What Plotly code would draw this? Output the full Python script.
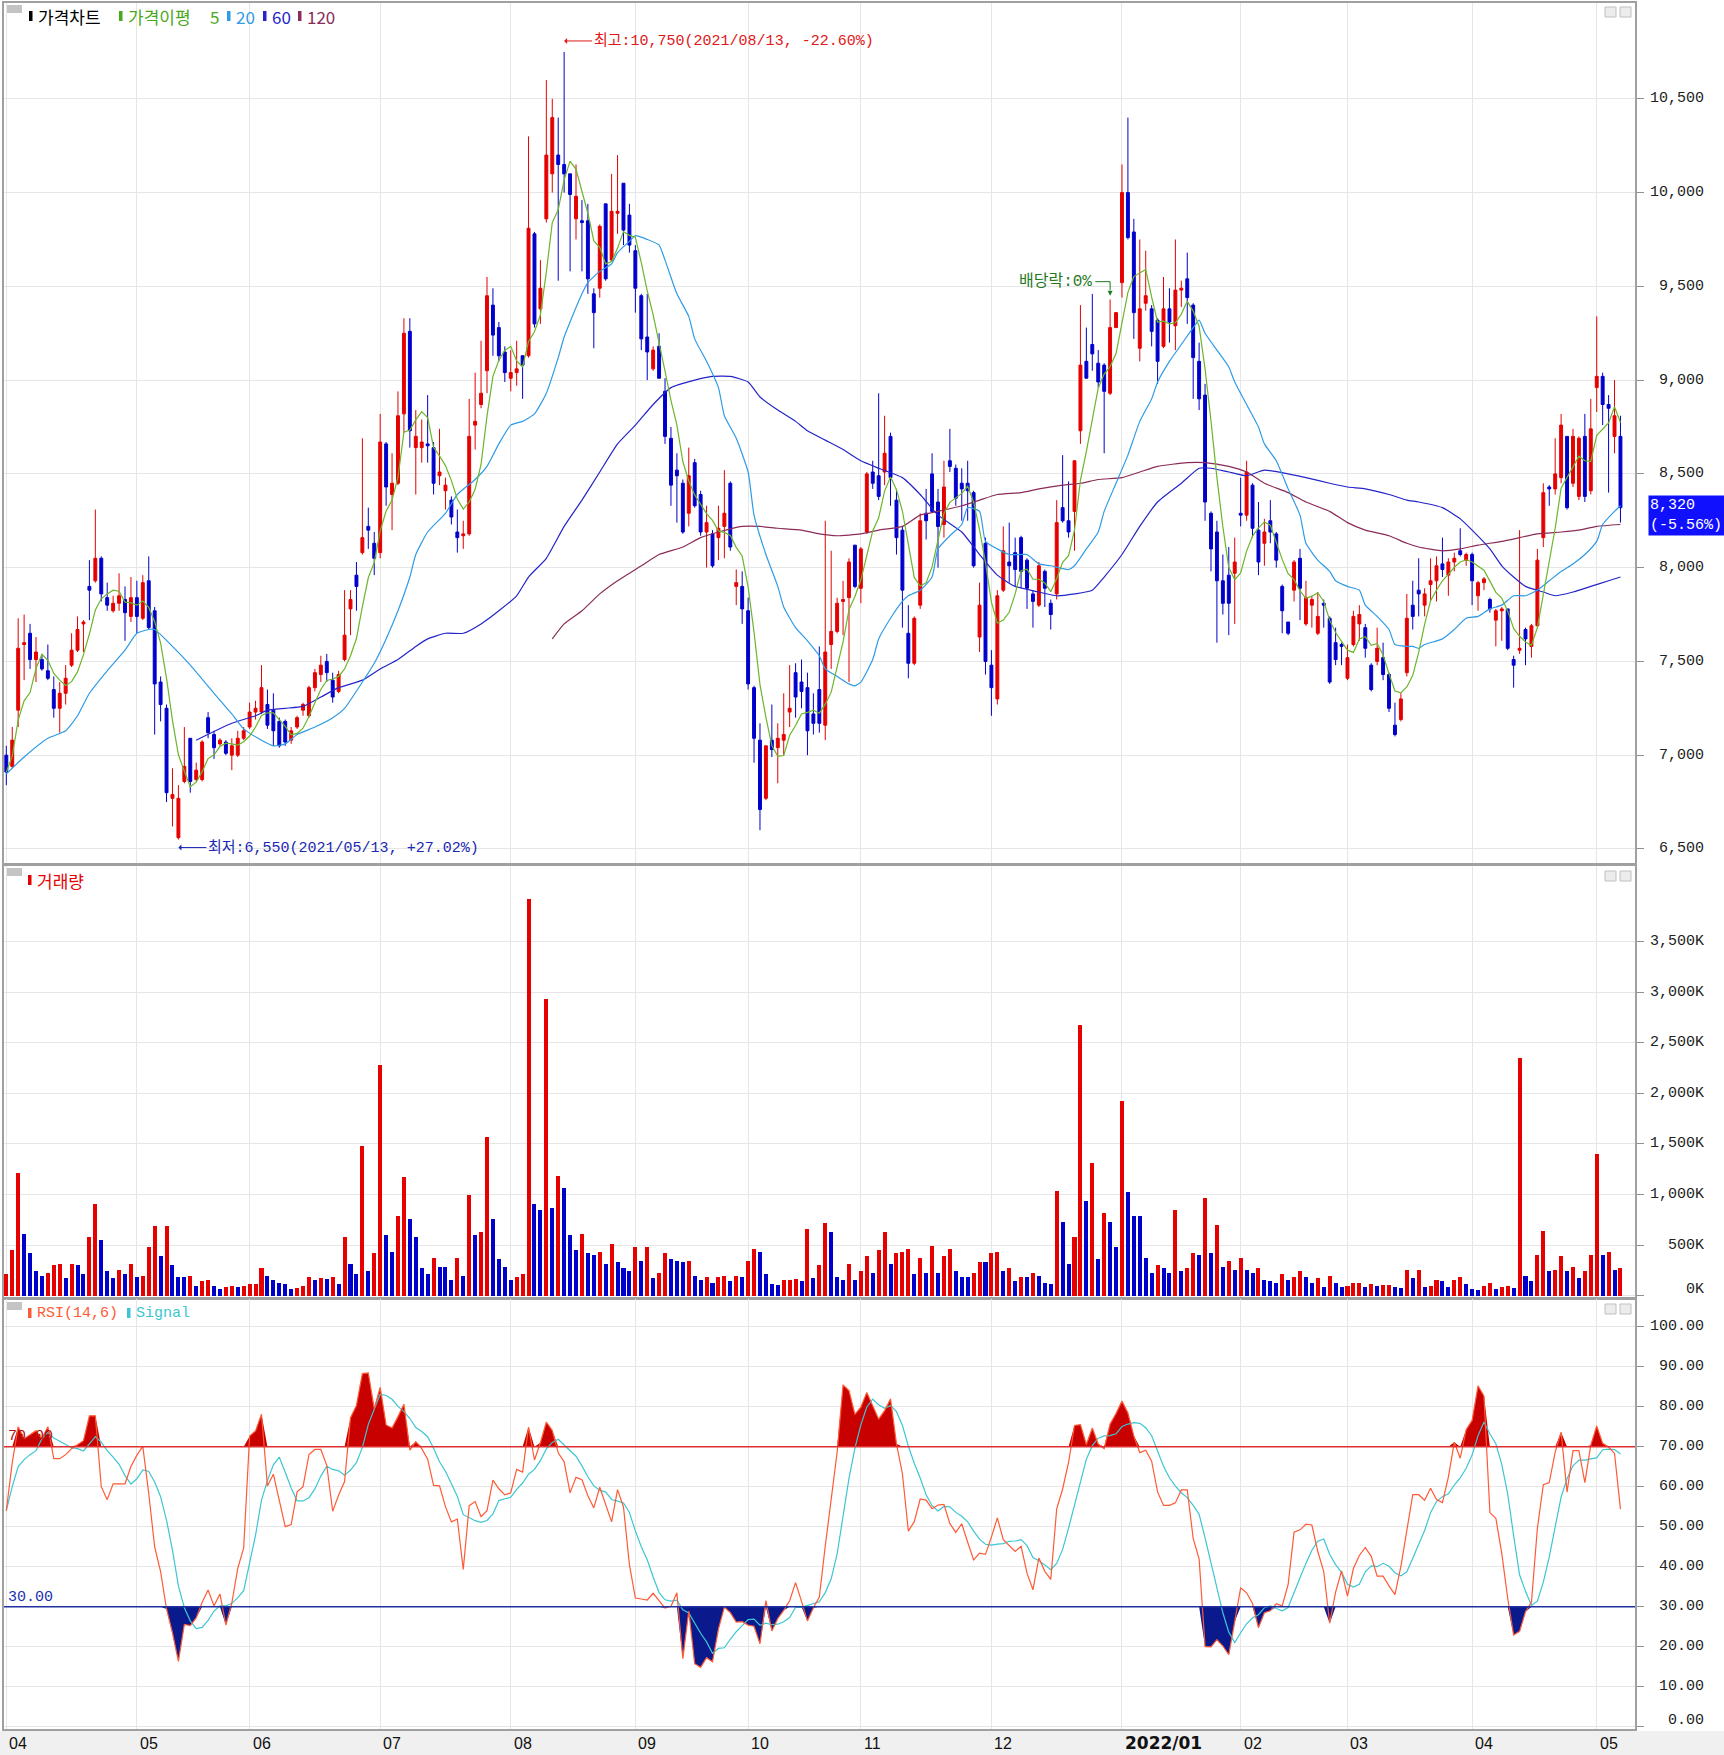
import numpy as np
import pandas as pd
import plotly.graph_objects as go

W, H = 1724, 1755

# ---------------- data ----------------
open_ = [7000,6940,7240,7590,7650,7510,7510,7450,7350,7250,7330,7480,7560,7700,7900,7930,8050,7840,7770,7810,
         7830,7740,7840,7730,7930,7770,7390,7250,6770,6560,6860,7090,6870,6870,7200,7110,7060,7070,7000,7000,
         7090,7150,7230,7230,7270,7240,7180,7180,7080,7150,7240,7210,7360,7430,7500,7400,7340,7510,7780,7960,
         8080,8220,8130,8080,8660,8390,8450,8820,9260,8640,8640,8660,8640,8490,8410,8360,8190,8170,8180,8760,
         8870,9050,9400,9280,9150,9010,9040,9130,9130,9780,9380,9860,10100,10200,10150,10100,9860,9850,9850,9460,
         9490,9940,9640,9890,10050,9880,9690,9450,9230,9060,9180,8940,8690,8520,8450,8290,8560,8390,8190,8180,
         8160,8220,8450,7900,7900,7770,7360,7080,6770,7080,7040,7080,7230,7440,7390,7360,7220,7350,7160,7590,
         7660,7820,7840,8120,7890,8190,8510,8490,8510,8700,8360,8200,7650,7490,7800,8290,8500,8350,8230,8570,
         8530,8450,8450,8400,7630,8130,7480,7300,7880,8030,8080,8160,8040,7860,7800,7980,7810,7860,8320,8250,
         8300,8730,9100,9190,9090,9080,8930,9280,9520,10000,9790,9170,9410,9380,9320,9180,9380,9290,9480,9540,
         9400,9100,8920,8290,8190,7930,7960,7970,8290,8280,8440,8200,8130,8250,8180,7900,7710,7880,8050,7700,
         7800,7650,7810,7730,7600,7590,7410,7590,7700,7680,7480,7500,7520,7430,7160,7190,7440,7800,7880,7800,
         7910,7930,8020,7960,8030,8090,8040,8070,7850,7920,7830,7720,7770,7780,7510,7560,7670,7580,7690,8160,
         8430,8420,8480,8700,8450,8380,8700,8410,8960,9020,8870,8700,8700]
high = [7050,7150,7730,7750,7700,7630,7540,7590,7420,7390,7480,7650,7740,7720,8040,8310,8060,7920,7850,7970,
        7900,7950,7930,7960,8060,7790,7420,7270,6930,6840,7150,7090,6960,7080,7230,7130,7090,7080,7090,7130,
        7150,7280,7290,7480,7350,7330,7200,7190,7150,7210,7280,7370,7460,7530,7540,7440,7450,7880,7880,8030,
        8690,8320,8190,8820,8670,8610,8940,9330,9330,8840,8790,8920,8670,8740,8480,8380,8310,8250,8900,9040,
        9210,9550,9490,9310,9180,9160,9210,9130,10300,9790,9640,10600,10500,10400,10750,10100,10150,9960,9940,9490,
        9830,9940,10100,10200,10050,9940,9720,9460,9460,9180,9250,9010,8750,8610,8470,8640,8580,8410,8330,8200,
        8330,8520,8460,7990,7980,7840,7370,7170,7050,7270,7170,7330,7480,7490,7510,7440,7330,7580,8250,8090,
        7840,7930,8050,8120,8110,8510,8570,8930,8810,8720,8420,8220,7800,7740,8290,8420,8610,8420,8570,8740,
        8550,8530,8570,8410,7920,8160,7560,7880,8220,8240,8160,8170,8050,7880,8030,7990,7830,8360,8600,8460,
        8570,9400,9280,9460,9160,9090,9430,9360,10150,10400,9860,9750,9690,9400,9330,9550,9490,9750,9530,9680,
        9410,9200,8980,8300,8250,8070,8110,8160,8480,8570,8450,8350,8260,8360,8190,7910,7710,8040,8100,7930,
        7850,7870,7830,7740,7680,7600,7590,7770,7800,7700,7490,7680,7600,7440,7280,7330,7860,7930,8050,7890,
        8050,8060,8160,8050,8080,8210,8080,8080,7930,7950,7840,7780,7790,7780,7530,8200,7680,7700,8100,8450,
        8440,8690,8820,8700,8740,8700,8820,8900,9340,9040,8920,9000,8810]
low = [6840,6930,7150,7400,7460,7390,7450,7400,7200,7120,7270,7470,7550,7550,7720,7920,7820,7770,7760,7770,
       7610,7710,7650,7720,7670,7110,7180,6750,6620,6550,6850,6800,6860,6860,7090,6980,7050,7000,6920,6990,
       7080,7140,7190,7220,7140,7050,7040,7050,7060,7140,7210,7200,7340,7390,7390,7280,7330,7500,7640,7770,
       8070,8100,7960,8050,8330,8200,8440,8720,8640,8390,8560,8560,8390,8440,8310,8230,8080,8100,8170,8630,
       8850,8930,9130,9100,8990,8940,8970,8900,9120,9280,9300,9840,10000,9530,10000,9580,9750,9580,9460,9170,
       9440,9530,9630,9780,9720,9680,9360,9160,9000,9050,9010,8660,8330,8240,8180,8220,8320,8170,8000,8000,
       8040,8050,8090,7800,7700,7350,6960,6600,6760,6990,6850,7000,7150,7200,7250,7000,7110,7120,7080,7460,
       7650,7640,7390,7890,7810,8180,8420,8360,8440,8330,8070,7680,7410,7480,7780,8150,8300,8000,8160,8510,
       8330,8250,8250,8000,7550,7430,7210,7270,7870,7920,7900,7890,7780,7680,7790,7790,7670,7830,8240,8160,
       8090,8660,9010,9050,8960,8610,8920,9280,9440,9750,9220,9100,9370,9180,8980,9170,9200,9160,9390,9300,
       8900,8840,8250,7980,7600,7750,7640,7700,8220,8250,8160,7960,8010,8130,8000,7650,7640,7820,7720,7690,
       7680,7640,7680,7380,7480,7480,7400,7580,7610,7520,7340,7480,7400,7230,7100,7180,7420,7670,7740,7740,
       7820,7820,7950,7850,7980,8060,8010,7800,7770,7880,7760,7580,7610,7560,7360,7540,7480,7520,7680,8110,
       8330,8390,8450,8310,8430,8360,8350,8390,8830,8760,8400,8610,8240]
close = [6910,7080,7570,7600,7510,7550,7460,7410,7250,7330,7410,7560,7670,7710,7880,8050,7860,7800,7810,7850,
         7760,7840,7740,7920,7680,7380,7270,6800,6790,6770,6940,6860,6920,7070,7120,7040,7080,7010,7050,7090,
         7130,7230,7250,7360,7160,7130,7050,7070,7130,7200,7270,7360,7440,7480,7440,7310,7430,7640,7830,7900,
         8160,8200,8050,8670,8430,8450,8810,9250,8730,8700,8670,8650,8450,8510,8440,8270,8160,8180,8700,8780,
         8930,9450,9240,9130,9040,9040,9060,9080,9810,9300,9490,10200,10400,10150,10100,9990,9980,9840,9540,9360,
         9820,9540,9900,9900,9800,9720,9490,9220,9150,9160,9010,8700,8440,8490,8190,8490,8330,8190,8240,8010,
         8210,8290,8110,7920,7780,7380,7090,6710,7050,7030,7090,7110,7250,7310,7340,7130,7170,7170,7550,7660,
         7810,7830,8030,7900,8100,8500,8450,8380,8610,8480,8160,7880,7490,7730,8250,8250,8300,8220,8430,8540,
         8370,8420,8410,8010,7800,7500,7360,7850,8090,8010,7990,7980,7890,7820,8010,7890,7750,8240,8250,8190,
         8570,9080,9010,9140,8990,8940,9280,9360,10000,9760,9360,9380,9450,9260,9100,9380,9310,9480,9490,9440,
         9120,8900,8350,8100,7930,7810,7810,8030,8280,8510,8210,8030,8190,8190,8040,7770,7650,8030,7890,7840,
         7830,7740,7800,7390,7510,7580,7520,7740,7750,7570,7350,7570,7430,7250,7110,7300,7730,7740,7860,7860,
         7930,8010,7990,8030,8050,8070,8070,7930,7920,7940,7780,7770,7780,7570,7480,7570,7620,7690,8040,8400,
         8420,8500,8760,8320,8700,8690,8380,8740,9020,8870,8850,8810,8320]
volume_k = [219,448,1216,611,422,245,199,229,304,317,170,317,304,216,582,905,552,245,170,258,
            216,317,186,199,480,686,392,686,304,186,180,190,98,141,157,98,69,82,98,82,
            98,111,115,275,199,157,127,111,69,72,98,186,157,170,165,186,111,582,317,219,
            1480,245,422,2281,598,435,788,1173,758,582,275,216,376,288,285,157,376,199,993,598,
            627,1570,758,363,288,157,186,216,3926,905,846,2935,863,1186,1069,598,451,611,422,405,
            435,317,510,333,275,245,480,346,480,170,229,422,363,346,333,346,199,157,186,127,
            186,199,141,199,186,346,464,435,216,111,108,157,160,163,141,657,170,304,716,627,
            186,157,317,157,245,392,229,451,627,317,422,435,464,216,376,229,493,229,392,464,
            245,186,183,229,333,330,422,435,245,275,141,186,183,229,199,127,111,1039,729,317,
            582,2673,935,1317,363,817,729,480,1930,1023,788,785,376,229,304,275,229,846,245,275,
            422,405,964,422,699,288,346,258,376,258,229,275,157,141,127,216,157,186,245,186,
            127,170,82,199,127,82,98,127,130,82,111,98,101,104,82,80,258,170,258,82,
            98,157,141,82,157,186,111,69,52,98,127,69,82,98,72,2346,199,141,405,641,
            245,250,392,245,288,170,245,405,1400,405,435,258,275]

# moving averages (candle index, price)
ma20_idx = [0,3,7,10,12,14,17,20,22,24,25,28,31,35,38,40,43,45,47,49,52,55,57,60,62,64,66,68,69,71,74,76,79,81,83,85,87,89,91,93,94,95,97,98,100,102,103,105,106,108,110,111,113,115,116,118,120,121,123,125,126,128,130,131,133,135,137,138,140,142,143,144,146,147,149,151,152,154,156,157,159,161,162,164,165,167,169,171,172,174,176,179,180,182,184,185,187,189,191,193,194,196,198,200,201,202,204,206,207,209,211,212,214,216,218,219,221,223,224,226,228,229,231,233,234,236,237,238,239,242,244,246,248,250,252,254,256,258,260,262,264,266,268,269,271,272]
ma20_val = [6900,6990,7090,7130,7210,7330,7450,7560,7650,7670,7670,7580,7480,7330,7220,7140,7080,7050,7060,7110,7150,7200,7250,7390,7490,7620,7770,7950,8070,8190,8290,8390,8470,8540,8660,8760,8780,8820,8930,9120,9230,9310,9460,9520,9580,9620,9680,9740,9770,9750,9720,9640,9460,9340,9220,9100,8960,8810,8690,8510,8280,8070,7900,7790,7680,7610,7530,7460,7420,7380,7370,7390,7510,7620,7730,7820,7850,7880,7950,8100,8170,8230,8320,8300,8140,8100,8070,8070,8070,8020,8010,7990,8010,8100,8190,8300,8450,8600,8780,8900,8990,9100,9190,9280,9320,9250,9160,9070,8990,8870,8750,8660,8570,8420,8280,8130,8040,7980,7930,7900,7880,7800,7740,7670,7590,7580,7580,7570,7590,7620,7670,7730,7740,7780,7800,7850,7850,7880,7930,7980,8020,8070,8140,8230,8300,8330]
ma60_idx = [32,38,42,44,47,50,53,56,60,63,66,69,71,74,77,80,83,86,88,91,94,97,100,103,106,109,112,116,119,122,125,127,130,133,135,138,141,144,147,151,154,157,161,164,167,170,174,177,180,183,185,188,191,194,198,201,203,206,209,212,216,219,223,226,229,233,236,238,242,245,247,250,252,254,256,259,261,264,267,270,272]
ma60_val = [7080,7170,7210,7240,7250,7260,7310,7360,7400,7460,7510,7580,7620,7650,7650,7700,7770,7850,7950,8050,8220,8360,8510,8660,8760,8870,8960,9000,9020,9020,8990,8910,8840,8780,8730,8680,8630,8570,8530,8480,8390,8280,8190,8070,7960,7900,7870,7850,7860,7880,7950,8070,8220,8350,8450,8530,8530,8510,8490,8520,8500,8480,8450,8430,8420,8390,8360,8350,8320,8260,8200,8100,8010,7950,7900,7870,7850,7870,7900,7930,7950]
ma120_idx = [92,94,97,100,103,107,110,114,117,120,124,127,130,134,137,140,144,147,151,154,157,161,164,167,171,174,178,181,184,188,191,194,199,202,206,209,212,216,219,223,226,229,233,236,238,242,245,248,252,255,258,262,265,268,272]
ma120_val = [7620,7700,7770,7860,7930,8010,8070,8110,8160,8190,8220,8220,8210,8200,8180,8170,8180,8200,8220,8280,8300,8330,8360,8390,8400,8420,8440,8450,8470,8480,8510,8540,8560,8560,8540,8510,8450,8400,8350,8300,8240,8200,8170,8130,8110,8090,8100,8120,8140,8160,8180,8190,8200,8220,8230]

# RSI values for the first days (not enough history in the visible data)
rsi_head = [54, 66, 75, 72, 73, 74, 72, 75, 67, 67, 68, 69.5, 70.5, 71.5]

month_idx = [0, 22, 41, 63, 85, 106, 125, 144, 166, 188, 208, 226, 247, 268]
month_lbl = ["04", "05", "06", "07", "08", "09", "10", "11", "12", "2022/01", "02", "03", "04", "05"]
price_ticks = [6500, 7000, 7500, 8000, 8500, 9000, 9500, 10000, 10500]
vol_ticks_k = [0, 500, 1000, 1500, 2000, 2500, 3000, 3500]
rsi_ticks = [0, 10, 20, 30, 40, 50, 60, 70, 80, 90, 100]
hi_date, lo_date = "2021/08/13", "2021/05/13"
div_idx = 186

# ---------------- styling ----------------
RED = "#e60000"
BLUE = "#0000cc"
GRID = "#e6e6e6"
FRAME = "#a0a0a0"
C_MA5, C_MA20, C_MA60, C_MA120 = "#6db52a", "#2f9be6", "#2424c8", "#8a2c58"
C_RSI, C_SIG = "#ff5a36", "#3cc6d2"
MONO = "Liberation Mono, Noto Sans CJK KR, monospace"
KR = "Noto Sans CJK KR, sans-serif"

N = len(close)
x = list(range(N))
cs = pd.Series(close, dtype=float)
ma5 = cs.rolling(5, min_periods=1).mean()

d = cs.diff()
up = d.clip(lower=0).rolling(14).sum()
dn = (-d.clip(upper=0)).rolling(14).sum()
rsi = 100 * up / (up + dn)
rsi.iloc[:len(rsi_head)] = rsi_head
signal = rsi.rolling(6, min_periods=1).mean()

vol = np.array(volume_k) * 1000
vcol = [RED] + [RED if vol[i] > vol[i - 1] else BLUE for i in range(1, N)]


def px(v):
    return v / W


def py(v):
    return 1 - v / H


def ydom(top, bot):
    return [1 - bot / H, 1 - top / H]


XD = [4 / W, 1635 / W]
XR = [-0.39, 274.45]

fig = go.Figure()

fig.add_trace(go.Candlestick(
    x=x, open=open_, high=high, low=low, close=close,
    increasing=dict(line=dict(color=RED, width=1), fillcolor=RED),
    decreasing=dict(line=dict(color=BLUE, width=1), fillcolor=BLUE),
    whiskerwidth=0, xaxis="x", yaxis="y", hoverinfo="skip"))
for xi, yi, c in [(ma120_idx, ma120_val, C_MA120), (ma60_idx, ma60_val, C_MA60),
                  (ma20_idx, ma20_val, C_MA20)]:
    fig.add_trace(go.Scatter(x=xi, y=yi, mode="lines", line=dict(color=c, width=1.2, shape="spline", smoothing=0.5),
                             xaxis="x", yaxis="y", hoverinfo="skip"))
fig.add_trace(go.Scatter(x=x, y=ma5, mode="lines", line=dict(color=C_MA5, width=1.2),
                         xaxis="x", yaxis="y", hoverinfo="skip"))

fig.add_trace(go.Bar(x=x, y=vol, marker=dict(color=vcol, line=dict(width=0)), width=0.68,
                     xaxis="x2", yaxis="y2", hoverinfo="skip"))

rsi_v = rsi.values
fig.add_trace(go.Scatter(x=x, y=[70] * N, mode="lines", line=dict(width=0), xaxis="x3", yaxis="y3", hoverinfo="skip"))
fig.add_trace(go.Scatter(x=x, y=np.maximum(rsi_v, 70), mode="lines", line=dict(width=0), fill="tonexty",
                         fillcolor="#c80000", xaxis="x3", yaxis="y3", hoverinfo="skip"))
fig.add_trace(go.Scatter(x=x, y=[30] * N, mode="lines", line=dict(width=0), xaxis="x3", yaxis="y3", hoverinfo="skip"))
fig.add_trace(go.Scatter(x=x, y=np.minimum(rsi_v, 30), mode="lines", line=dict(width=0), fill="tonexty",
                         fillcolor="#0a1a8c", xaxis="x3", yaxis="y3", hoverinfo="skip"))
fig.add_trace(go.Scatter(x=x, y=signal, mode="lines", line=dict(color=C_SIG, width=1.2),
                         xaxis="x3", yaxis="y3", hoverinfo="skip"))
fig.add_trace(go.Scatter(x=x, y=rsi, mode="lines", line=dict(color=C_RSI, width=1.2),
                         xaxis="x3", yaxis="y3", hoverinfo="skip"))

common_x = dict(domain=XD, range=XR, tickvals=month_idx, showticklabels=False, ticks="",
                showgrid=True, gridcolor=GRID, gridwidth=1, showline=True, mirror=True,
                linecolor=FRAME, linewidth=2, zeroline=False, fixedrange=True)
common_y = dict(side="right", showticklabels=False, ticks="outside", ticklen=7, tickcolor="#909090",
                showgrid=True, gridcolor=GRID, gridwidth=1, showline=True, mirror=True,
                linecolor=FRAME, linewidth=2, zeroline=False, fixedrange=True)

fig.update_layout(
    width=W, height=H, margin=dict(l=0, r=0, t=0, b=0),
    paper_bgcolor="white", plot_bgcolor="white", showlegend=False, bargap=0,
    xaxis=dict(common_x, anchor="y", rangeslider=dict(visible=False)),
    xaxis2=dict(common_x, anchor="y2", matches="x"),
    xaxis3=dict(common_x, anchor="y3", matches="x"),
    yaxis=dict(common_y, domain=ydom(3, 863), range=[6425, 11011], tickvals=price_ticks),
    yaxis2=dict(common_y, domain=ydom(866, 1297.5), range=[-18000, 4249000],
                tickvals=[v * 1000 for v in vol_ticks_k]),
    yaxis3=dict(common_y, domain=ydom(1298.5, 1729), range=[-0.6, 107.05], tickvals=rsi_ticks),
)

shapes = []
ann = []

# bottom strip
shapes.append(dict(type="rect", xref="paper", yref="paper", x0=0, x1=1, y0=0, y1=py(1731),
                   fillcolor="#f0f0f0", line=dict(width=0), layer="below"))
# 70 / 30 lines
shapes.append(dict(type="line", xref="x3 domain", yref="y3", x0=0, x1=1, y0=70, y1=70,
                   line=dict(color="#e03030", width=1.5)))
shapes.append(dict(type="line", xref="x3 domain", yref="y3", x0=0, x1=1, y0=30, y1=30,
                   line=dict(color="#2030a0", width=1.5)))

# panel icons
for top in (5, 868, 1302):
    shapes.append(dict(type="rect", xref="paper", yref="paper", x0=px(7), x1=px(22), y0=py(top + 8), y1=py(top),
                       fillcolor="#c4c4c4", line=dict(width=0)))
for top in (7, 871, 1304):
    for x0 in (1605, 1620):
        shapes.append(dict(type="rect", xref="paper", yref="paper", x0=px(x0), x1=px(x0 + 11),
                           y0=py(top + 10), y1=py(top), fillcolor="#ececec", line=dict(color="#c0c0c0", width=1)))


def marker(xp, yc, color):
    shapes.append(dict(type="rect", xref="paper", yref="paper", x0=px(xp), x1=px(xp + 3.5),
                       y0=py(yc + 5), y1=py(yc - 5), fillcolor=color, line=dict(width=0)))


def text(xp, yc, s, color, size=16, family=KR, anchor="left", bold=False):
    if bold:
        s = "<b>" + s + "</b>"
    ann.append(dict(xref="paper", yref="paper", x=px(xp), y=py(yc), text=s, showarrow=False,
                    xanchor=anchor, yanchor="middle", font=dict(family=family, size=size, color=color)))


# price legend
marker(29, 16, "#000000"); text(36, 16, "가격차트", "#000000", 17)
marker(119, 16, "#4aa820"); text(126, 16, "가격이평", "#4aa820", 17); text(208, 16, "5", "#4aa820", 17)
marker(227, 16, C_MA20); text(234, 16, "20", C_MA20, 17)
marker(263, 16, C_MA60); text(270, 16, "60", C_MA60, 17)
marker(298, 16, C_MA120); text(305, 16, "120", C_MA120, 17)
# volume legend
marker(28, 880, RED); text(35, 880, "거래량", RED, 17)
# RSI legend
marker(28, 1313, C_RSI); text(35, 1313, "RSI(14,6)", C_RSI, 15, MONO)
marker(127, 1313, C_SIG); text(134, 1313, "Signal", C_SIG, 15, MONO)

# right axis labels
for v in price_ticks:
    ann.append(dict(xref="paper", yref="y", x=px(1706), y=v, text=f"{v:,}", showarrow=False,
                    xanchor="right", yanchor="middle", font=dict(family=MONO, size=15, color="#222")))
for v in vol_ticks_k:
    ann.append(dict(xref="paper", yref="y2", x=px(1706), y=v * 1000, text=f"{v:,}K", showarrow=False,
                    xanchor="right", yanchor="middle", yshift=6 if v == 0 else 0,
                    font=dict(family=MONO, size=15, color="#222")))
for v in rsi_ticks:
    ann.append(dict(xref="paper", yref="y3", x=px(1706), y=v, text=f"{v:.2f}", showarrow=False,
                    xanchor="right", yanchor="middle", yshift=6 if v == 0 else 0,
                    font=dict(family=MONO, size=15, color="#222")))

# month labels
for i, lbl in zip(month_idx, month_lbl):
    bold = lbl.startswith("20")
    ann.append(dict(xref="x3", yref="paper", x=i, y=py(1743), text=("<b>%s</b>" % lbl) if bold else lbl,
                    showarrow=False, xanchor="left", yanchor="middle", xshift=1,
                    font=dict(family="DejaVu Sans" if bold else "Liberation Sans", size=17 if bold else 16,
                              color="#111")))

# RSI level labels
text(6, 1436, "70.00", "#b01010", 15, MONO)
text(6, 1597, "30.00", "#2030b0", 15, MONO)

# highest / lowest
last = close[-1]
ih = int(np.argmax(high)); hv = high[ih]
il = int(np.argmin(low)); lv = low[il]
ann.append(dict(xref="x", yref="y", x=ih, y=hv, yshift=11, ax=28, ay=0, showarrow=True, arrowhead=1,
                arrowsize=1, arrowwidth=1, arrowcolor="#e01818", xanchor="left",
                text=f"최고:{hv:,}({hi_date}, {(last / hv - 1) * 100:+.2f}%)",
                font=dict(family=MONO, size=15, color="#e01818")))
ann.append(dict(xref="x", yref="y", x=il, y=lv, yshift=-8, ax=28, ay=0, showarrow=True, arrowhead=1,
                arrowsize=1, arrowwidth=1, arrowcolor="#1a28b4", xanchor="left",
                text=f"최저:{lv:,}({lo_date}, {(last / lv - 1) * 100:+.2f}%)",
                font=dict(family=MONO, size=15, color="#1a28b4")))

# dividend marker
dh = high[div_idx]
ann.append(dict(xref="x", yref="y", x=div_idx - 2.7, y=dh + 95, text="배당락:0%", showarrow=False,
                xanchor="right", yanchor="middle", font=dict(family=MONO, size=16, color="#1e7a1e")))
shapes.append(dict(type="path", xref="x", yref="y",
                   path=f"M {div_idx - 2.5},{dh + 95} L {div_idx},{dh + 95} L {div_idx},{dh + 50}",
                   line=dict(color="#1e7a1e", width=1)))
ann.append(dict(xref="x", yref="y", x=div_idx, y=dh + 20, ax=0, ay=-6, showarrow=True, arrowhead=2,
                arrowsize=1, arrowwidth=1, arrowcolor="#1e7a1e", text=""))

# last price box
chg = (close[-1] / close[-2] - 1) * 100
ann.append(dict(xref="paper", yref="y", x=px(1648), y=last, yshift=-8, xanchor="left", yanchor="middle",
                text=f"{last:,}<br>({chg:.2f}%)", showarrow=False, align="left", bgcolor="#1010ff",
                borderpad=1, width=74, font=dict(family=MONO, size=15, color="white")))

fig.update_layout(shapes=shapes, annotations=ann)

fig.write_html("out.html", config={"displayModeBar": False, "staticPlot": True},
               post_script="document.body.style.margin='0';document.body.style.overflow='hidden';")
